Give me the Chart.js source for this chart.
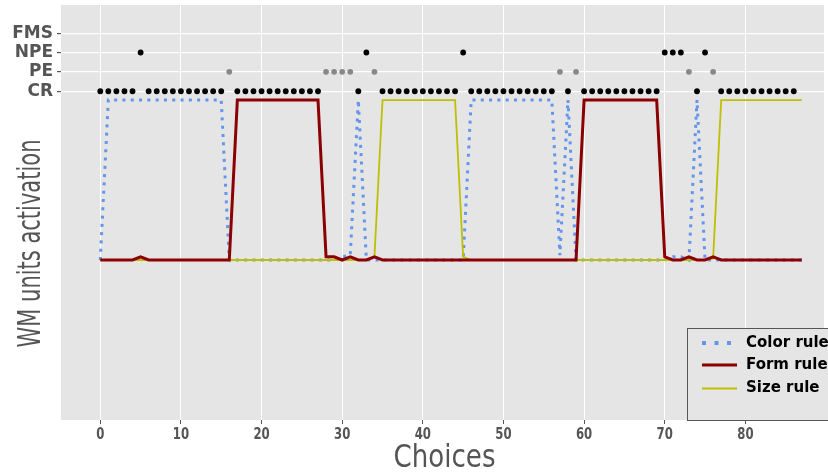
<!DOCTYPE html>
<html>
<head>
<meta charset="utf-8">
<script src="https://cdn.jsdelivr.net/npm/chart.js@4/dist/chart.umd.min.js"></script>
<style>
  html, body { margin: 0; padding: 0; background: #fff; }
</style>
</head>
<body>
<canvas id="myChart" width="828" height="473"></canvas>
<script>
// feedback received after each choice (0..86)
const feedbackLabels = [ 'CR', 'PE', 'NPE', 'FMS' ];
const feedbackLevels = [ 1.055, 1.176, 1.297, 1.418 ];
const feedback = [
    'CR', 'CR', 'CR', 'CR', 'CR', 'NPE', 'CR', 'CR', 'CR', 'CR',
    'CR', 'CR', 'CR', 'CR', 'CR', 'CR', 'PE', 'CR', 'CR', 'CR',
    'CR', 'CR', 'CR', 'CR', 'CR', 'CR', 'CR', 'CR', 'PE', 'PE',
    'PE', 'PE', 'CR', 'NPE', 'PE', 'CR', 'CR', 'CR', 'CR', 'CR',
    'CR', 'CR', 'CR', 'CR', 'CR', 'NPE', 'CR', 'CR', 'CR', 'CR',
    'CR', 'CR', 'CR', 'CR', 'CR', 'CR', 'CR', 'PE', 'CR', 'PE',
    'CR', 'CR', 'CR', 'CR', 'CR', 'CR', 'CR', 'CR', 'CR', 'CR',
    'NPE', 'NPE', 'NPE', 'PE', 'CR', 'NPE', 'PE', 'CR', 'CR', 'CR',
    'CR', 'CR', 'CR', 'CR', 'CR', 'CR', 'CR'
];

// WM units activation per choice (0..87)
const colorRule = [
    0, 1, 1, 1, 1, 1, 1, 1, 1, 1,
    1, 1, 1, 1, 1, 1, 0, 0, 0, 0,
    0, 0, 0, 0, 0, 0, 0, 0, 0, 0,
    0.02, 0.03, 1, 0, 0, 0, 0, 0, 0, 0,
    0, 0, 0, 0, 0, 0, 1, 1, 1, 1,
    1, 1, 1, 1, 1, 1, 1, 0.03, 1, 0,
    0, 0, 0, 0, 0, 0, 0, 0, 0, 0,
    0, 0.02, 0.02, 0, 1, 0, 0, 0, 0, 0,
    0, 0, 0, 0, 0, 0, 0, 0
];
const formRule = [
    0, 0, 0, 0, 0, 0.02, 0, 0, 0, 0,
    0, 0, 0, 0, 0, 0, 0, 1, 1, 1,
    1, 1, 1, 1, 1, 1, 1, 1, 0.02, 0.02,
    0, 0.02, 0, 0, 0.02, 0, 0, 0, 0, 0,
    0, 0, 0, 0, 0, 0, 0, 0, 0, 0,
    0, 0, 0, 0, 0, 0, 0, 0, 0, 0,
    1, 1, 1, 1, 1, 1, 1, 1, 1, 1,
    0.02, 0, 0, 0.02, 0, 0, 0.02, 0, 0, 0,
    0, 0, 0, 0, 0, 0, 0, 0
];
const sizeRule = [
    0, 0, 0, 0, 0, 0, 0, 0, 0, 0,
    0, 0, 0, 0, 0, 0, 0, 0, 0, 0,
    0, 0, 0, 0, 0, 0, 0, 0, 0, 0,
    0, 0, 0, 0, 0.02, 1, 1, 1, 1, 1,
    1, 1, 1, 1, 1, 0.02, 0, 0, 0, 0,
    0, 0, 0, 0, 0, 0, 0, 0, 0, 0,
    0, 0, 0, 0, 0, 0, 0, 0, 0, 0,
    0, 0, 0, 0, 0, 0, 0.01, 1, 1, 1,
    1, 1, 1, 1, 1, 1, 1, 1
];

const xTitle = 'Choices';
const yTitle = 'WM units activation';

const toPoints = ( arr ) => arr.map( ( v, i ) => ( { x: i, y: v } ) );
const levelOf = ( f ) => feedbackLevels[ feedbackLabels.indexOf( f ) ];
const dotColor = ( f ) => f === 'PE' ? '#888888' : '#000000';

// squeezed text, the reference uses a narrow face
function squeezed( ctx, text, x, y, font, sx, align )
{
    ctx.save();
    ctx.font = font;
    ctx.translate( x, y );
    ctx.scale( sx, 1 );
    ctx.textAlign = align;
    ctx.fillText( text, 0, 0 );
    ctx.restore();
}

const decor = {
    id: 'decor',
    beforeDraw( chart )
    {
        const { ctx, chartArea: a } = chart;
        ctx.save();
        ctx.fillStyle = '#e5e5e5';
        ctx.fillRect( a.left, a.top, a.right - a.left, a.bottom - a.top );
        ctx.restore();
    },
    afterDraw( chart )
    {
        const ctx = chart.ctx;
        const xs = chart.scales.x;

        // x tick labels
        ctx.fillStyle = '#555555';
        xs.ticks.forEach( t =>
        {
            squeezed( ctx, String( t.value ), xs.getPixelForValue( t.value ), 439,
                'bold 15px "DejaVu Sans"', 0.78, 'center' );
        } );

        // axis titles
        ctx.save();
        ctx.font = '32px "DejaVu Sans"';
        let w = ctx.measureText( xTitle ).width;
        ctx.restore();
        squeezed( ctx, xTitle, 444.5, 467, '32px "DejaVu Sans"', 102 / w, 'center' );

        ctx.save();
        ctx.font = '32px "DejaVu Sans"';
        w = ctx.measureText( yTitle ).width;
        ctx.translate( 40, 243.5 );
        ctx.rotate( -Math.PI / 2 );
        ctx.scale( 208 / w, 1 );
        ctx.textAlign = 'center';
        ctx.fillStyle = '#555555';
        ctx.fillText( yTitle, 0, 0 );
        ctx.restore();

        // legend box
        ctx.save();
        ctx.fillStyle = '#e5e5e5';
        ctx.strokeStyle = '#555555';
        ctx.lineWidth = 1;
        ctx.fillRect( 687.5, 328.5, 200, 92 );
        ctx.strokeRect( 687.5, 328.5, 200, 92 );
        const rows = [ 343, 365, 388.5 ];
        chart.data.datasets.filter( d => d.type === 'line' ).forEach( ( d, i ) =>
        {
            const y = rows[ i ];
            ctx.beginPath();
            ctx.strokeStyle = d.borderColor;
            ctx.lineWidth = d.legendWidth;
            ctx.setLineDash( d.borderDash.length ? [ 4, 8.5 ] : [] );
            ctx.moveTo( 702, y );
            ctx.lineTo( 737, y );
            ctx.stroke();
            ctx.setLineDash( [] );
            ctx.fillStyle = '#000000';
            ctx.font = 'bold 15px "DejaVu Sans"';
            ctx.textBaseline = 'middle';
            ctx.fillText( d.label, 746, y );
        } );
        ctx.restore();
    }
};

new Chart( document.getElementById( 'myChart' ), {
    type: 'line',
    data: {
        datasets: [ {
            type: 'line',
            label: 'Color rule',
            data: toPoints( colorRule ),
            borderColor: '#6495ed',
            borderWidth: 3,
            borderDash: [ 3, 5.3 ],
            legendWidth: 4,
            pointRadius: 0,
            tension: 0,
            order: 3
        },
        {
            type: 'line',
            label: 'Form rule',
            data: toPoints( formRule ),
            borderColor: '#8b0000',
            borderWidth: 3,
            borderDash: [],
            legendWidth: 3,
            pointRadius: 0,
            tension: 0,
            order: 1
        },
        {
            type: 'line',
            label: 'Size rule',
            data: toPoints( sizeRule ),
            borderColor: '#bfbf00',
            borderWidth: 1.8,
            borderDash: [],
            legendWidth: 2,
            pointRadius: 0,
            tension: 0,
            order: 2
        },
        {
            type: 'scatter',
            label: 'Feedback',
            data: feedback.map( ( f, i ) => ( { x: i, y: levelOf( f ) } ) ),
            pointRadius: 2.9,
            pointBorderWidth: 0,
            pointBackgroundColor: feedback.map( dotColor ),
            pointBorderColor: feedback.map( dotColor ),
            showLine: false,
            order: 0
        } ]
    },
    options: {
        responsive: false,
        animation: false,
        layout: { padding: { top: 5, right: 0, left: 0, bottom: 0 } },
        plugins: {
            legend: { display: false },
            tooltip: { enabled: false }
        },
        scales: {
            x: {
                type: 'linear',
                min: -4.87,
                max: 89.75,
                border: { display: false },
                grid: { color: '#ffffff', lineWidth: 1, tickColor: '#555555', tickLength: 4 },
                ticks: { stepSize: 10, includeBounds: false, display: false },
                afterFit: ( s ) => { s.height = 53; s.paddingLeft = 0; s.paddingRight = 0; }
            },
            y: {
                type: 'linear',
                min: -1,
                max: 1.594,
                border: { display: false },
                grid: { color: '#ffffff', lineWidth: 1.2, tickColor: '#555555', tickLength: 4 },
                afterBuildTicks: ( s ) => { s.ticks = feedbackLevels.map( v => ( { value: v } ) ); },
                ticks: {
                    padding: 4,
                    color: '#555555',
                    font: { family: 'DejaVu Sans', size: 17, weight: 'bold' },
                    callback: ( v ) => feedbackLabels[ feedbackLevels.indexOf( v ) ]
                },
                afterFit: ( s ) => { s.width = 61; s.paddingTop = 0; s.paddingBottom = 0; }
            }
        }
    },
    plugins: [ decor ]
} );
</script>
</body>
</html>
